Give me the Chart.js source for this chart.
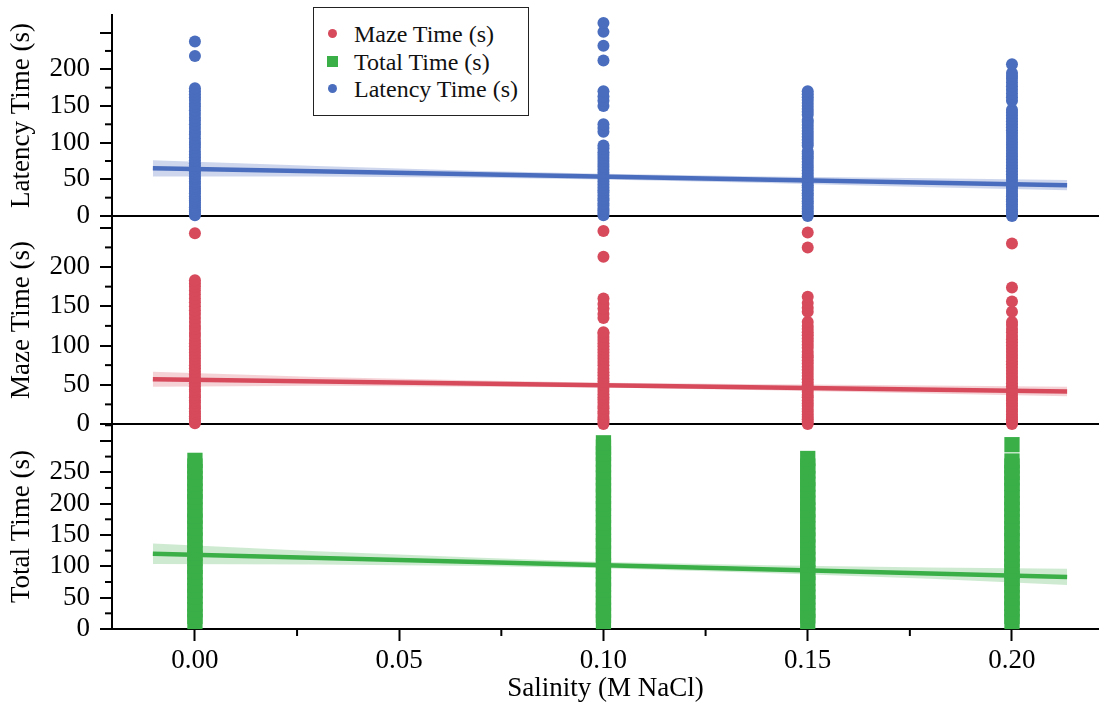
<!DOCTYPE html>
<html>
<head>
<meta charset="utf-8">
<script src="https://cdn.jsdelivr.net/npm/chart.js@4.4.1/dist/chart.umd.min.js"></script>
<style>
  body{margin:0;background:#fff;}
  #wrap{position:relative;width:1099px;height:709px;}
  #legend{position:absolute;left:313px;top:7px;width:216px;height:109px;border:1.5px solid #222;background:#fff;
    font-family:"Liberation Serif","Times New Roman",serif;font-size:24px;color:#111;box-sizing:border-box;}
  .row{position:absolute;left:0;height:28px;line-height:28px;white-space:nowrap;}
  .mk{position:absolute;left:14px;top:9px;width:9px;height:9px;border-radius:50%;}
  .sq{position:absolute;left:13px;top:8px;width:11px;height:11px;}
  .tx{position:absolute;left:40px;top:0;}
</style>
</head>
<body>
<div id="wrap">
  <canvas id="c" width="1099" height="709"></canvas>
  <div id="legend">
    <div class="row" style="top:12px"><span class="mk" style="background:#d64a5c"></span><span class="tx">Maze Time (s)</span></div>
    <div class="row" style="top:40px"><span class="sq" style="background:#3aaf48"></span><span class="tx">Total Time (s)</span></div>
    <div class="row" style="top:67px"><span class="mk" style="background:#4a6dbd"></span><span class="tx">Latency Time (s)</span></div>
  </div>
</div>
<script>
const SERIF='"Liberation Serif", "Times New Roman", serif';
const BLUE='#4a6dbd', RED='#d64a5c', GREEN='#3aaf48';

// salinity levels (M NaCl)
const salinity=[0,0.10,0.15,0.20];

// latency time (s) per salinity level
const latency0=[1,3,6,9,12,15,18,21,24,27,31,34,37,40,44,47,51,54,58,61,65,69,72,76,80,84,88,93,97,101,106,111,115,120,125,130,134,139,144,149,153,158,162,166,170,174,218,238];
const latency10=[1,4,7,10,14,17,21,24,28,32,35,39,43,47,51,55,59,63,67,71,75,79,83,87,92,96,115,120,125,150,157,163,170,212,232,251,263];
const latency15=[0,3,6,10,13,17,20,24,28,31,35,39,42,46,50,54,58,62,66,70,74,78,81,85,88,96,100,104,108,112,116,120,124,128,131,138,142,146,150,154,158,162,166,170];
const latency20=[0,3,6,9,13,16,20,23,27,30,34,38,41,45,49,53,57,61,65,69,73,77,81,85,89,93,97,101,105,109,113,117,121,125,129,133,137,141,145,157,162,167,172,177,182,187,191,195,207];

// maze time (s)
const maze0=[1,4,7,10,13,16,20,23,27,30,34,37,41,44,48,52,55,59,63,67,71,75,79,83,87,91,95,99,103,107,112,116,121,125,130,135,140,145,150,155,160,165,170,175,179,183,243];
const maze10=[0,3,6,9,13,16,20,23,27,31,34,38,42,46,50,54,58,62,66,70,75,79,83,87,91,95,99,103,107,111,115,117,135,140,147,153,160,213,246];
const maze15=[0,3,6,9,12,16,19,23,26,30,34,37,41,45,49,53,57,61,65,69,73,77,81,85,88,92,97,101,105,109,113,117,121,125,130,143,148,154,162,225,244];
const maze20=[0,3,6,9,12,16,19,23,26,30,33,37,41,44,48,52,56,60,64,68,72,76,80,84,88,92,96,100,104,108,112,117,121,126,130,143,156,174,230];

// total time (s)
const total0=[12,20,31,40,52,61,70,82,91,100,113,121,130,142,150,161,172,180,190,203,211,220,232,240,251,260,269];
const total10=[12,22,30,41,50,62,71,80,92,101,110,121,133,140,151,162,170,181,192,200,212,221,230,241,250,262,271,280,290,297];
const total15=[12,21,30,42,51,60,72,81,90,102,111,120,131,142,150,160,171,182,190,201,210,222,231,240,252,260,272];
const total20=[12,20,32,41,50,61,70,81,92,100,111,120,130,141,152,160,171,180,191,200,210,221,232,241,250,260,268,294];

// linear fits and confidence bands
const fitX=[-0.0103,0.2135];
const latencyFit=[65,42];
const mazeFit=[57,41.5];
const totalFit=[120,83];
const bandX=[-0.0103,0.03,0.07,0.10,0.14,0.18,0.2135];
const latencyUpper=[76,68,61.5,57.5,54,51.5,49];
const latencyLower=[54,54,52.2,49.7,45,39.3,35];
const mazeUpper=[66.5,60,55.5,52.5,50.5,49,47.5];
const mazeLower=[47.5,48.6,47.5,46.5,43.1,39,35.5];
const totalUpper=[136.5,124,113.5,107,101.5,98,96];
const totalLower=[103.5,103,100.3,97,89.5,80,70];

const pts=(lists)=>lists.flatMap((ys,i)=>ys.map(y=>({x:salinity[i],y})));
const xy=(xs,ys)=>xs.map((x,i)=>({x,y:ys[i]}));
const isMajorX=v=>Math.abs(Math.round(v*20)-v*20)<1e-6;

function scatterSet(label,lists,axis,color,style,r){
  return {label,data:pts(lists),yAxisID:axis,showLine:false,pointStyle:style,pointRadius:r,
    pointBackgroundColor:color,pointBorderWidth:0,pointHoverRadius:r,order:2,clip:false};
}
function fitSet(ys,axis,color){
  return {data:xy(fitX,ys),yAxisID:axis,showLine:true,borderColor:color,borderWidth:4.5,pointRadius:0,order:1};
}
function bandSets(lo,hi,axis,fillColor){
  return [
    {data:xy(bandX,lo),yAxisID:axis,showLine:true,borderColor:'transparent',borderWidth:0,pointRadius:0,fill:false,order:3},
    {data:xy(bandX,hi),yAxisID:axis,showLine:true,borderColor:'transparent',borderWidth:0,pointRadius:0,fill:'-1',backgroundColor:fillColor,order:3}
  ];
}

const font={family:SERIF,size:27};
function yAxis(title,max,lastLabel,weight){
  return {
    type:'linear',position:'left',stack:'panels',stackWeight:weight,min:0,max,z:1,
    border:{color:'#000',width:2},
    grid:{color:c=>c.tick&&c.tick.value===0?'#000':'transparent',lineWidth:2,tickLength:12,tickWidth:2,
      tickColor:c=>c.tick&&c.tick.value%50===0?'#000':'transparent'},
    ticks:{stepSize:25,autoSkip:false,includeBounds:false,padding:10,font,color:'#000',
      callback:v=>(v%50===0&&v<=lastLabel)?v:''},
    title:{display:true,text:title,font,color:'#000',padding:{top:6,bottom:0}},
    afterFit:s=>{s.width=112;s.paddingTop=0;s.paddingBottom=0;}
  };
}

// short minor ticks
const minorTicks={
  id:'minorTicks',
  afterDraw(chart){
    const ctx=chart.ctx;
    ctx.save();ctx.strokeStyle='#000';ctx.lineWidth=2;
    const x=chart.scales.x;
    x.ticks.forEach(t=>{
      if(isMajorX(t.value))return;
      const px=x.getPixelForValue(t.value);
      ctx.beginPath();ctx.moveTo(px,x.top);ctx.lineTo(px,x.top+7);ctx.stroke();
    });
    ['yLat','yMaze','yTotal'].forEach(id=>{
      const s=chart.scales[id];
      s.ticks.forEach(t=>{
        if(t.value%50===0)return;
        const py=s.getPixelForValue(t.value);
        ctx.beginPath();ctx.moveTo(s.right-7,py);ctx.lineTo(s.right,py);ctx.stroke();
      });
    });
    ctx.restore();
  }
};

new Chart(document.getElementById('c'),{
  type:'scatter',
  data:{datasets:[
    ...bandSets(latencyLower,latencyUpper,'yLat','rgba(74,109,189,0.28)'),
    ...bandSets(mazeLower,mazeUpper,'yMaze','rgba(214,74,92,0.25)'),
    ...bandSets(totalLower,totalUpper,'yTotal','rgba(58,175,72,0.25)'),
    scatterSet('Latency Time (s)',[latency0,latency10,latency15,latency20],'yLat',BLUE,'circle',6),
    scatterSet('Maze Time (s)',[maze0,maze10,maze15,maze20],'yMaze',RED,'circle',6),
    scatterSet('Total Time (s)',[total0,total10,total15,total20],'yTotal',GREEN,'rect',10.8),
    fitSet(latencyFit,'yLat',BLUE),
    fitSet(mazeFit,'yMaze',RED),
    fitSet(totalFit,'yTotal',GREEN)
  ]},
  options:{
    responsive:false,devicePixelRatio:1,animation:false,
    layout:{autoPadding:false,padding:{top:15,right:0,left:0,bottom:0}},
    plugins:{legend:{display:false},tooltip:{enabled:false}},
    scales:{
      x:{type:'linear',min:-0.0203,max:0.2213,z:1,
        border:{color:'#000',width:2},
        grid:{drawOnChartArea:false,tickLength:12,tickWidth:2,tickColor:c=>c.tick&&isMajorX(c.tick.value)?'#000':'transparent'},
        ticks:{stepSize:0.025,includeBounds:false,autoSkip:false,maxRotation:0,padding:4,font,color:'#000',
          callback:v=>isMajorX(v)?v.toFixed(2):''},
        title:{display:true,text:'Salinity (M NaCl)',font,color:'#000',padding:{top:0,bottom:4}},
        afterFit:s=>{s.height=80;s.paddingLeft=0;s.paddingRight=0;}
      },
      yTotal:yAxis('Total Time (s)',327,250,205),
      yMaze:yAxis('Maze Time (s)',265,200,208),
      yLat:yAxis('Latency Time (s)',274,200,201)
    }
  },
  plugins:[minorTicks]
});
</script>
</body>
</html>
